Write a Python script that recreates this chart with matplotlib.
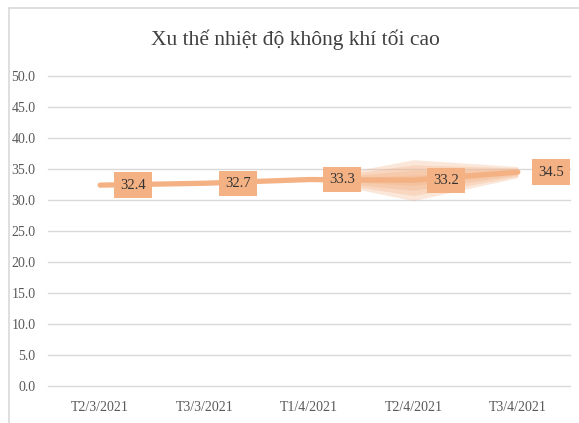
import matplotlib.pyplot as plt
from matplotlib.lines import Line2D
import numpy as np

# data
categories = ['T2/3/2021', 'T3/3/2021', 'T1/4/2021', 'T2/4/2021', 'T3/4/2021']
tmax = [32.4, 32.7, 33.3, 33.2, 34.5]
# half-width of the soft glow around the line (rendering artefact in the original)
glow = [0.0, 0.0, 0.0, 3.3, 0.9]
yticks = np.arange(0, 50.1, 5)

line_color = '#F4B183'
text_color = '#404040'
tick_color = '#595959'

plt.rcParams['font.family'] = ['Liberation Serif', 'DejaVu Serif']

fig = plt.figure(figsize=(5.79, 4.23), dpi=100)
ax = fig.add_axes([48 / 579, 37 / 423, 522 / 579, 310 / 423])

x = np.arange(len(categories))
y = np.array(tmax)
g = np.array(glow)

# glow layers
for k in (1.0, 0.75, 0.5, 0.25):
    ax.fill_between(x, y - g * k, y + g * k, color=line_color, alpha=0.3,
                    linewidth=0, zorder=2)

ax.plot(x, y, color=line_color, linewidth=3.8, solid_capstyle='round', zorder=3)

for xi, yi in zip(x, y):
    ax.annotate(f'{yi:.1f}', (xi, yi), xytext=(33, 0), textcoords='offset pixels',
                ha='center', va='center', fontsize=10.5, color='#333333',
                bbox=dict(boxstyle='square,pad=0.42', fc=line_color, ec='none'),
                zorder=4)

ax.set_xlim(-0.5, len(categories) - 0.5)
ax.set_ylim(0, 50)
ax.set_yticks(yticks)
ax.set_yticklabels([f'{v:.1f}' for v in yticks])
ax.set_xticks(x)
ax.set_xticklabels(categories)
ax.tick_params(axis='both', length=0, labelsize=10, labelcolor=tick_color)
ax.tick_params(axis='y', pad=9)
ax.tick_params(axis='x', pad=11)
ax.grid(axis='y', color='#D9D9D9', linewidth=1)
for gl in ax.get_ygridlines():
    gl.set_clip_on(False)
ax.set_axisbelow(True)
for s in ax.spines.values():
    s.set_visible(False)

fig.text(295 / 579, 1 - 40 / 423, 'Xu thế nhiệt độ không khí tối cao',
         ha='center', va='center', fontsize=15.5, color=text_color)

# chart frame (left and top edges visible)
fig.add_artist(Line2D([8.5 / 579, 8.5 / 579], [0, 1 - 8.5 / 423],
                      color='#D9D9D9', linewidth=1.2))
fig.add_artist(Line2D([8.5 / 579, 1], [1 - 8.5 / 423, 1 - 8.5 / 423],
                      color='#D9D9D9', linewidth=1.2))

fig.savefig('out.png', dpi=100)
